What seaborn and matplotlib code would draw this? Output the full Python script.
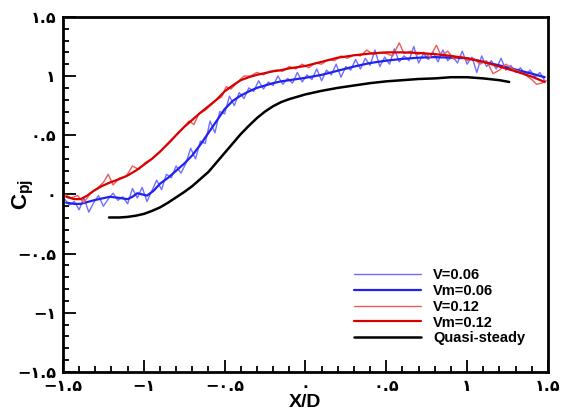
import numpy as np
import pandas as pd
import matplotlib
matplotlib.use("Agg")
import matplotlib.pyplot as plt
import seaborn as sns
from matplotlib.ticker import FixedLocator, FixedFormatter, MultipleLocator

# ---------------- data ----------------
quasi_x = [-1.215, -1.15, -1.10, -1.05, -1.00, -0.95, -0.90, -0.85, -0.80, -0.75, -0.70, -0.65, -0.60, -0.55,
           -0.50, -0.45, -0.40, -0.35, -0.30, -0.25, -0.20, -0.15, -0.10, -0.05, 0.00, 0.10, 0.20, 0.30,
           0.40, 0.50, 0.60, 0.70, 0.80, 0.90, 1.00, 1.10, 1.20, 1.26]
quasi_y = [-0.195, -0.195, -0.19, -0.18, -0.165, -0.14, -0.11, -0.07, -0.025, 0.02, 0.07, 0.13, 0.19, 0.27,
           0.35, 0.43, 0.51, 0.58, 0.645, 0.70, 0.745, 0.78, 0.805, 0.825, 0.845, 0.875, 0.90, 0.92,
           0.94, 0.955, 0.965, 0.975, 0.98, 0.99, 0.99, 0.98, 0.965, 0.95]

vm012_x = [-1.48, -1.43, -1.39, -1.35, -1.31, -1.26, -1.21, -1.15, -1.10, -1.05, -1.00, -0.95, -0.90, -0.85,
           -0.80, -0.75, -0.70, -0.65, -0.60, -0.55, -0.50, -0.45, -0.40, -0.35, -0.30, -0.25, -0.20, -0.15,
           -0.10, -0.05, 0.00, 0.10, 0.20, 0.30, 0.40, 0.50, 0.60, 0.70, 0.80, 0.90, 1.00, 1.10, 1.20, 1.30,
           1.40, 1.48]
vm012_y = [-0.02, -0.04, -0.04, -0.01, 0.03, 0.07, 0.10, 0.13, 0.16, 0.20, 0.25, 0.30, 0.36, 0.43,
           0.50, 0.57, 0.63, 0.69, 0.745, 0.80, 0.87, 0.92, 0.965, 0.99, 1.01, 1.025, 1.04, 1.05,
           1.065, 1.075, 1.085, 1.12, 1.155, 1.175, 1.19, 1.20, 1.20, 1.195, 1.185, 1.17, 1.15, 1.12, 1.08, 1.04,
           0.995, 0.95]

vm006_x = [-1.48, -1.43, -1.39, -1.35, -1.31, -1.26, -1.21, -1.15, -1.10, -1.07, -1.04, -1.01, -0.98, -0.94,
           -0.90, -0.85, -0.80, -0.75, -0.70, -0.65, -0.60, -0.55, -0.50, -0.45, -0.40, -0.35, -0.30, -0.25,
           -0.20, -0.15, -0.10, -0.05, 0.00, 0.10, 0.20, 0.30, 0.40, 0.50, 0.60, 0.70, 0.80, 0.90, 1.00, 1.10,
           1.20, 1.30, 1.40, 1.48]
vm006_y = [-0.07, -0.08, -0.08, -0.065, -0.05, -0.035, -0.02, -0.03, -0.04, -0.02, 0.01, 0.00, -0.01, 0.03,
           0.09, 0.14, 0.20, 0.26, 0.33, 0.42, 0.52, 0.62, 0.72, 0.79, 0.835, 0.87, 0.90, 0.92,
           0.94, 0.955, 0.965, 0.975, 0.985, 1.01, 1.045, 1.08, 1.11, 1.13, 1.145, 1.155, 1.16, 1.155, 1.15, 1.12,
           1.09, 1.055, 1.02, 0.99]

v006_x = [-1.49, -1.46, -1.43, -1.40, -1.37, -1.34, -1.31, -1.28, -1.25, -1.22, -1.19, -1.16, -1.13, -1.10, -1.07, -1.04,
          -1.01, -0.98, -0.95, -0.92, -0.89, -0.86, -0.83, -0.80, -0.77, -0.74, -0.71, -0.68, -0.65, -0.62, -0.59, -0.56,
          -0.53, -0.50, -0.47, -0.44, -0.41, -0.38, -0.35, -0.32, -0.29, -0.26, -0.23, -0.20, -0.17, -0.14, -0.11, -0.08,
          -0.05, -0.02, 0.01, 0.04, 0.07, 0.10, 0.13, 0.16, 0.19, 0.22, 0.25, 0.28, 0.31, 0.34, 0.37, 0.40,
          0.43, 0.46, 0.49, 0.52, 0.55, 0.58, 0.61, 0.64, 0.67, 0.70, 0.73, 0.76, 0.79, 0.82, 0.85, 0.88,
          0.91, 0.94, 0.97, 1.00, 1.03, 1.06, 1.09, 1.12, 1.15, 1.18, 1.21, 1.24, 1.27, 1.30, 1.33, 1.36,
          1.39, 1.42, 1.45, 1.48]
v006_y = [-0.04, -0.09, -0.06, -0.13, -0.03, -0.15, -0.07, -0.01, -0.10, -0.04, 0.01, -0.05, -0.02, -0.08, 0.05, -0.03,
          0.06, -0.06, 0.03, 0.12, 0.04, 0.17, 0.14, 0.24, 0.18, 0.26, 0.39, 0.30, 0.45, 0.43, 0.62, 0.52,
          0.70, 0.68, 0.83, 0.75, 0.86, 0.81, 0.90, 0.87, 0.96, 0.89, 0.95, 0.92, 1.00, 0.93, 0.98, 0.94,
          1.03, 0.95, 1.01, 0.97, 1.06, 0.96, 1.05, 1.01, 1.10, 0.99, 1.08, 1.05, 1.14, 1.06, 1.15, 1.09,
          1.22, 1.08, 1.16, 1.10, 1.23, 1.12, 1.17, 1.13, 1.25, 1.11, 1.19, 1.14, 1.20, 1.12, 1.22, 1.13,
          1.17, 1.11, 1.21, 1.10, 1.16, 1.03, 1.17, 1.08, 1.13, 1.06, 1.15, 1.05, 1.09, 1.03, 1.07, 1.01,
          1.05, 0.99, 1.03, 0.96]

v012_x = [-1.49, -1.45, -1.41, -1.37, -1.33, -1.29, -1.25, -1.22, -1.19, -1.15, -1.11, -1.07, -1.03, -0.99, -0.95, -0.91,
          -0.87, -0.83, -0.79, -0.75, -0.72, -0.69, -0.66, -0.62, -0.58, -0.55, -0.52, -0.49, -0.46, -0.42, -0.38, -0.34,
          -0.30, -0.26, -0.22, -0.18, -0.14, -0.10, -0.06, -0.02, 0.02, 0.06, 0.10, 0.14, 0.18, 0.22, 0.26, 0.30,
          0.34, 0.38, 0.42, 0.46, 0.50, 0.54, 0.58, 0.61, 0.65, 0.69, 0.73, 0.77, 0.81, 0.84, 0.88, 0.92,
          0.96, 1.00, 1.04, 1.08, 1.12, 1.16, 1.20, 1.24, 1.28, 1.32, 1.36, 1.40, 1.43, 1.46, 1.49]
v012_y = [0.00, -0.03, -0.01, -0.07, 0.01, 0.05, 0.10, 0.17, 0.08, 0.14, 0.15, 0.24, 0.21, 0.27, 0.30, 0.35,
          0.40, 0.45, 0.52, 0.57, 0.62, 0.59, 0.68, 0.71, 0.76, 0.80, 0.82, 0.91, 0.89, 0.95, 1.00, 1.00,
          1.03, 1.01, 1.04, 1.05, 1.04, 1.08, 1.06, 1.10, 1.07, 1.11, 1.10, 1.14, 1.13, 1.17, 1.15, 1.18,
          1.17, 1.22, 1.18, 1.20, 1.19, 1.17, 1.28, 1.19, 1.21, 1.18, 1.20, 1.16, 1.26, 1.17, 1.21, 1.14,
          1.17, 1.13, 1.15, 1.10, 1.13, 1.02, 1.05, 1.10, 1.06, 1.04, 1.01, 0.97, 0.93, 0.94, 0.96]

tick_vals = [-1.5, -1.0, -0.5, 0.0, 0.5, 1.0, 1.5]
tick_labels = ["\u2212\u06F1.\u06F5", "\u2212\u06F1", "\u2212\u06F0.\u06F5", "\u06F0",
               "\u06F0.\u06F5", "\u06F1", "\u06F1.\u06F5"]

series = [
    ("V=0.06", v006_x, v006_y, "#6f6fff", 1.0),
    ("Vm=0.06", vm006_x, vm006_y, "#2222ee", 1.6),
    ("V=0.12", v012_x, v012_y, "#ee5a5a", 1.0),
    ("Vm=0.12", vm012_x, vm012_y, "#d80000", 1.6),
    ("Quasi-steady", quasi_x, quasi_y, "#000000", 1.8),
]

# ---------------- plot ----------------
sns.set_style("white")
plt.rcParams['font.family'] = ['Liberation Sans', 'DejaVu Sans']
plt.rcParams['mathtext.fontset'] = 'custom'
plt.rcParams['mathtext.rm'] = 'Liberation Sans'
plt.rcParams['mathtext.bf'] = 'Liberation Sans:bold'
plt.rcParams['text.color'] = 'black'
plt.rcParams['axes.labelcolor'] = 'black'
plt.rcParams['xtick.color'] = 'black'
plt.rcParams['ytick.color'] = 'black'

fig = plt.figure(figsize=(5.62, 4.11), dpi=100)
ax = fig.add_axes([0.112, 0.095, 0.863, 0.864])

for name, xs, ys, col, lw in series:
    df = pd.DataFrame({"x": xs, "y": ys})
    sns.lineplot(data=df, x="x", y="y", ax=ax, color=col, linewidth=lw,
                 sort=False, estimator=None, label=name)

ax.set_xlim(-1.5, 1.5)
ax.set_ylim(-1.5, 1.5)

for axis in (ax.xaxis, ax.yaxis):
    axis.set_major_locator(FixedLocator(tick_vals))
    axis.set_major_formatter(FixedFormatter(tick_labels))
    axis.set_minor_locator(MultipleLocator(0.1))

ax.tick_params(which='both', direction='in', top=False, right=False,
               left=True, bottom=True, width=1.3, color='black', labelcolor='black')
ax.tick_params(which='major', length=9, labelsize=11.5, pad=5)
ax.tick_params(which='minor', length=4.5)
for lab in ax.get_xticklabels() + ax.get_yticklabels():
    lab.set_fontweight('bold')
    lab.set_family(['DejaVu Sans'])

for sp in ax.spines.values():
    sp.set_linewidth(2)
    sp.set_color('black')

ax.set_xlabel("X/D", fontsize=14, fontweight='bold', labelpad=0, color='black')
ax.set_ylabel(r"$\mathbf{C}_{\mathbf{pj}}$", fontsize=16, color='black')
ax.yaxis.set_label_coords(-0.055, 0.5)

leg = ax.legend(loc='lower right', bbox_to_anchor=(0.98, 0.038), frameon=False,
                handlelength=4.6, handletextpad=0.8, labelspacing=0.12,
                prop={'weight': 'bold', 'size': 10.5}, labelcolor='black')

fig.savefig("out.png", dpi=100)
